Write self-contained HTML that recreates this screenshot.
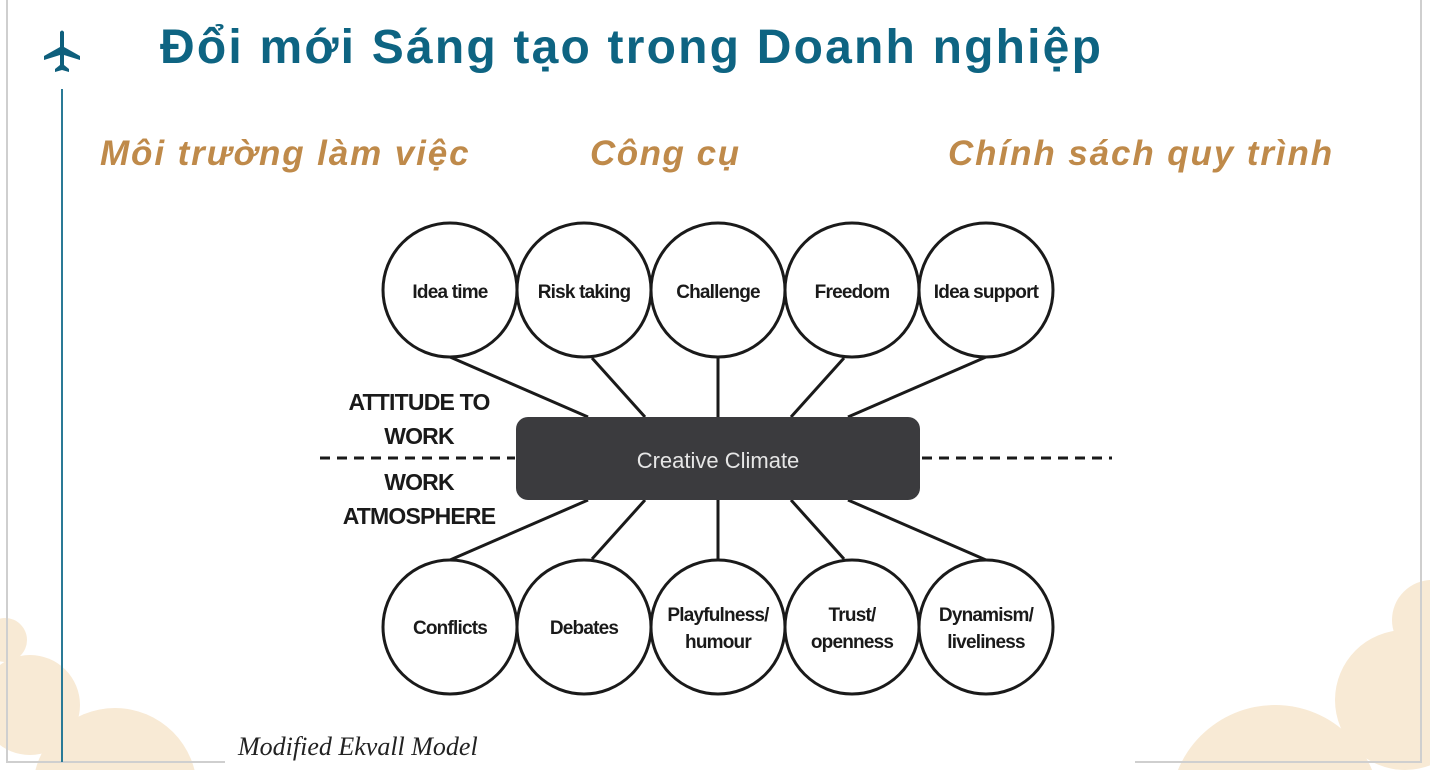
<!DOCTYPE html>
<html style="overflow:hidden"><head><meta charset="utf-8"><style>
html,body{margin:0;width:1430px;height:770px;overflow:hidden}
body{background:#fff;position:relative;font-family:"Liberation Sans","DejaVu Sans",sans-serif}
.t{position:absolute;white-space:nowrap;line-height:1}
</style></head><body>
<svg width="1430" height="770" style="position:absolute;left:0;top:0">
<g fill="#f8ead5">
<circle cx="5" cy="640" r="22"/>
<circle cx="30" cy="705" r="50"/>
<circle cx="115" cy="790" r="82"/>
<circle cx="1432" cy="620" r="40"/>
<circle cx="1405" cy="700" r="70"/>
<circle cx="1275" cy="810" r="105"/>
</g>
<polyline points="7,0 7,762 225,762" fill="none" stroke="#cfcfcf" stroke-width="2"/>
<polyline points="1135,762 1421,762 1421,0" fill="none" stroke="#cfcfcf" stroke-width="2"/>
<line x1="62" y1="89" x2="62" y2="762" stroke="#2a7a96" stroke-width="2"/>
<g fill="#0e5f7c" transform="translate(62,52)">
<path d="M-2,-20 Q0,-23 2,-20 L2,-5 L18,4 L18,8 L2,3 L2,13 L7,17 L7,20 L0,18 L-7,20 L-7,17 L-2,13 L-2,3 L-18,8 L-18,4 L-2,-5Z"/>
</g>
<g stroke="#1a1a1a" stroke-width="3" fill="none">
<line x1="450" y1="357" x2="588" y2="417"/>
<line x1="592" y1="358" x2="645" y2="417"/>
<line x1="718" y1="358" x2="718" y2="417"/>
<line x1="844" y1="358" x2="791" y2="417"/>
<line x1="986" y1="357" x2="848" y2="417"/>
<line x1="450" y1="560" x2="588" y2="500"/>
<line x1="592" y1="559" x2="645" y2="500"/>
<line x1="718" y1="559" x2="718" y2="500"/>
<line x1="844" y1="559" x2="791" y2="500"/>
<line x1="986" y1="560" x2="848" y2="500"/>
<line x1="320" y1="458" x2="515" y2="458" stroke-dasharray="10,7"/>
<line x1="922" y1="458" x2="1112" y2="458" stroke-dasharray="10,7"/>
</g>
<g stroke="#1a1a1a" stroke-width="3" fill="#fff">
<circle cx="450" cy="290" r="67"/><circle cx="584" cy="290" r="67"/><circle cx="718" cy="290" r="67"/><circle cx="852" cy="290" r="67"/><circle cx="986" cy="290" r="67"/>
<circle cx="450" cy="627" r="67"/><circle cx="584" cy="627" r="67"/><circle cx="718" cy="627" r="67"/><circle cx="852" cy="627" r="67"/><circle cx="986" cy="627" r="67"/>
</g>
<rect x="516" y="417" width="404" height="83" rx="12" fill="#3b3b3e"/>
<g font-family="Liberation Sans, sans-serif" font-size="19" font-weight="bold" fill="#1a1a1a" text-anchor="middle" letter-spacing="-0.8">
<text x="450" y="298">Idea time</text><text x="584" y="298">Risk taking</text><text x="718" y="298">Challenge</text><text x="852" y="298">Freedom</text><text x="986" y="298">Idea support</text>
<text x="450" y="634">Conflicts</text><text x="584" y="634">Debates</text>
<text x="718" y="621">Playfulness/</text><text x="718" y="648">humour</text>
<text x="852" y="621">Trust/</text><text x="852" y="648">openness</text>
<text x="986" y="621">Dynamism/</text><text x="986" y="648">liveliness</text>
<text x="419" y="410" font-size="23">ATTITUDE TO</text><text x="419" y="444" font-size="23">WORK</text>
<text x="419" y="490" font-size="23">WORK</text><text x="419" y="524" font-size="23">ATMOSPHERE</text>
</g>
<text x="718" y="468" font-family="Liberation Sans, sans-serif" font-size="22" fill="#e6e6e6" text-anchor="middle">Creative Climate</text>
</svg>
<div class="t" style="left:160px;top:24px;font-size:48px;font-weight:bold;color:#0e6482;letter-spacing:2.2px">Đổi mới Sáng tạo trong Doanh nghiệp</div>
<div class="t" style="left:100px;top:136px;font-size:35px;font-weight:bold;font-style:italic;color:#bf8a4a;letter-spacing:1.9px">Môi trường làm việc</div>
<div class="t" style="left:590px;top:136px;font-size:35px;font-weight:bold;font-style:italic;color:#bf8a4a;letter-spacing:1.5px">Công cụ</div>
<div class="t" style="left:948px;top:136px;font-size:35px;font-weight:bold;font-style:italic;color:#bf8a4a;letter-spacing:1.9px">Chính sách quy trình</div>
<div class="t" style="left:238px;top:734px;font-size:26px;font-style:italic;font-family:'Liberation Serif',serif;color:#222">Modified Ekvall Model</div>
</body></html>
